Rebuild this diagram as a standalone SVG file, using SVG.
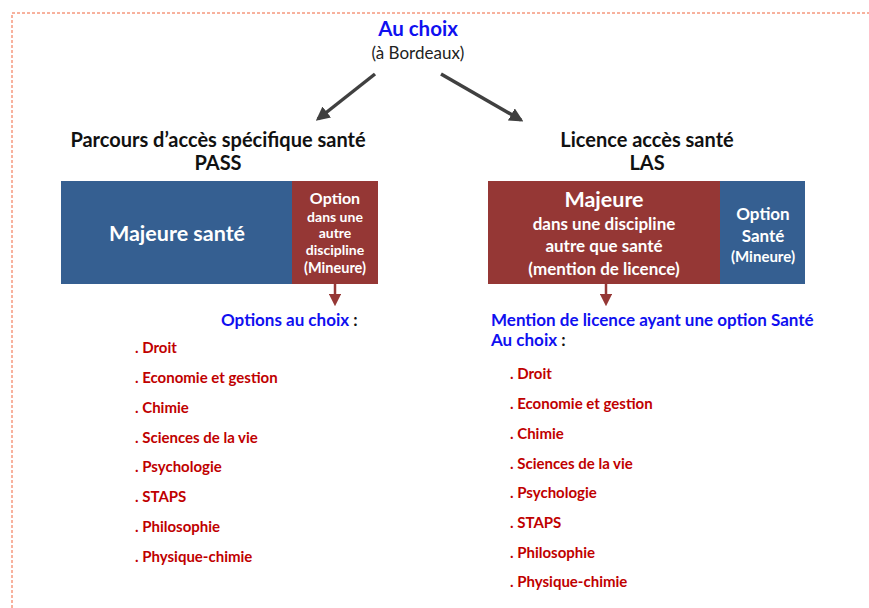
<svg xmlns="http://www.w3.org/2000/svg" width="869" height="608" viewBox="0 0 869 608">
<defs>
<style>
text{font-family:Lato,"Open Sans","Liberation Sans",sans-serif;font-weight:bold}
.hd{font-size:20px;fill:#111;text-anchor:middle}
.w{fill:#fff;text-anchor:middle}
.li{font-size:15px;fill:#C00000}
.bl{font-size:17px;fill:#1010F0}
</style>
<marker id="ah" viewBox="0 0 10 10" refX="8" refY="5" markerWidth="4" markerHeight="4" orient="auto"><path d="M0,0L10,5L0,10z" fill="#404040"/></marker>
<marker id="rh" viewBox="0 0 10 10" refX="5" refY="5" markerWidth="5" markerHeight="5" orient="auto"><path d="M0,0L10,5L0,10z" fill="#953735"/></marker>
</defs>
<rect width="869" height="608" fill="#fff"/>
<rect x="12" y="13" width="900" height="640" fill="none" stroke="#F0643C" stroke-width="1" stroke-dasharray="3,2"/>
<g id="top">
<text x="418" y="36" style="font-size:20.5px;fill:#1010F0" text-anchor="middle">Au choix</text>
<text x="418" y="59" style="font-size:17px;font-weight:normal;fill:#222" text-anchor="middle">(à Bordeaux)</text>
</g>
<g id="connectors" stroke-width="3.5" fill="none">
<line x1="375" y1="74" x2="318" y2="119" stroke="#404040" marker-end="url(#ah)"/>
<line x1="441" y1="74" x2="521" y2="120" stroke="#404040" marker-end="url(#ah)"/>
<line x1="335" y1="284" x2="335" y2="300" stroke="#953735" stroke-width="2.5" marker-end="url(#rh)"/>
<line x1="606" y1="284" x2="606" y2="300" stroke="#953735" stroke-width="2.5" marker-end="url(#rh)"/>
</g>
<g id="pass">
<text class="hd" x="218" y="147">Parcours d’accès spécifique santé</text>
<text class="hd" x="218" y="170">PASS</text>
<rect x="61" y="181" width="231" height="103" fill="#355F91"/>
<rect x="292" y="181" width="86" height="103" fill="#953735"/>
<text class="w" x="177" y="241" style="font-size:21.5px">Majeure santé</text>
<text class="w" x="335" y="204" style="font-size:16px">Option</text>
<text class="w" x="335" y="222" style="font-size:14px">dans une</text>
<text class="w" x="335" y="238" style="font-size:14px">autre</text>
<text class="w" x="335" y="255" style="font-size:14px">discipline</text>
<text class="w" x="335" y="273" style="font-size:14.5px">(Mineure)</text>
</g>
<g id="las">
<text class="hd" x="647" y="147">Licence accès santé</text>
<text class="hd" x="647" y="170">LAS</text>
<rect x="488" y="181" width="232" height="103" fill="#953735"/>
<rect x="720" y="181" width="85" height="103" fill="#355F91"/>
<text class="w" x="604" y="207" style="font-size:21.5px">Majeure</text>
<text class="w" x="604" y="230" style="font-size:17px">dans une discipline</text>
<text class="w" x="604" y="252" style="font-size:17px">autre que santé</text>
<text class="w" x="604" y="275" style="font-size:17px">(mention de licence)</text>
<text class="w" x="763" y="220" style="font-size:17px">Option</text>
<text class="w" x="763" y="242" style="font-size:17px">Santé</text>
<text class="w" x="763" y="262" style="font-size:15px">(Mineure)</text>
</g>
<g id="pass-list">
<text class="bl" x="221" y="326">Options au choix <tspan fill="#111">:</tspan></text>
<text class="li" x="135" y="353">. Droit</text>
<text class="li" x="135" y="383">. Economie et gestion</text>
<text class="li" x="135" y="413">. Chimie</text>
<text class="li" x="135" y="443">. Sciences de la vie</text>
<text class="li" x="135" y="472">. Psychologie</text>
<text class="li" x="135" y="502">. STAPS</text>
<text class="li" x="135" y="532">. Philosophie</text>
<text class="li" x="135" y="562">. Physique-chimie</text>
</g>
<g id="las-list">
<text class="bl" x="491" y="326">Mention de licence ayant une option Santé</text>
<text class="bl" x="491" y="346">Au choix <tspan fill="#111">:</tspan></text>
<text class="li" x="510" y="379">. Droit</text>
<text class="li" x="510" y="409">. Economie et gestion</text>
<text class="li" x="510" y="439">. Chimie</text>
<text class="li" x="510" y="469">. Sciences de la vie</text>
<text class="li" x="510" y="498">. Psychologie</text>
<text class="li" x="510" y="528">. STAPS</text>
<text class="li" x="510" y="558">. Philosophie</text>
<text class="li" x="510" y="587">. Physique-chimie</text>
</g>
</svg>
